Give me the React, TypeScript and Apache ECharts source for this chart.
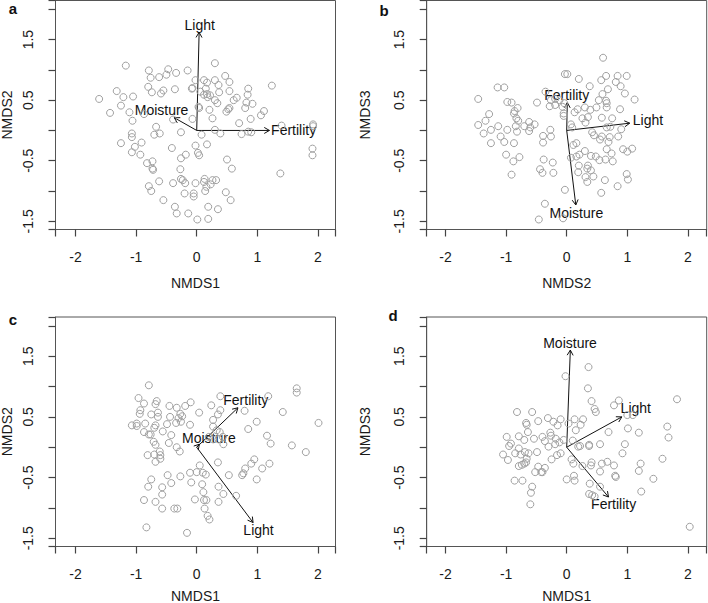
import React, { useEffect, useRef } from "react";
import * as echarts from "echarts";

const FONT = "'Liberation Sans', Arial, Helvetica, sans-serif";

const xTicks = [-2, -1, 0, 1, 2];
const yTickLabels = [-1.5, -0.5, 0.5, 1.5];

const panelLetters = ["a", "b", "c", "d"];
const xTitles = ["NMDS1", "NMDS2", "NMDS1", "NMDS1"];
const yTitles = ["NMDS2", "NMDS3", "NMDS2", "NMDS3"];

const pointsA = [
  [0.30,1.11],[-1.17,1.07],[-0.79,0.99],[-0.47,1.01],[-0.34,0.95],[-0.15,0.99],[-0.50,0.92],[-0.76,0.87],[-0.62,0.88],[-0.02,0.83],[0.12,0.83],[0.17,0.79],[0.30,0.83],[0.36,0.75],[0.47,0.90],[0.54,0.80],[1.24,0.74],[0.85,0.69],[-0.80,0.72],[-0.74,0.63],[-0.55,0.66],[-0.59,0.61],[-0.36,0.68],[-0.08,0.69],[-0.07,0.70],[0.06,0.64],[0.15,0.69],[0.17,0.60],[0.37,0.63],[0.54,0.65],[0.84,0.59],[0.66,0.54],[0.61,0.50],[-1.32,0.65],[-1.21,0.55],[-1.05,0.56],[-1.61,0.52],[-1.25,0.41],[-1.43,0.29],[-1.11,0.30],[-1.06,0.16],[-0.87,0.27],[0.12,0.59],[0.18,0.55],[0.22,0.58],[0.30,0.50],[0.34,0.45],[0.03,0.39],[0.04,0.37],[0.21,0.34],[0.49,0.31],[0.52,0.35],[0.54,0.37],[0.80,0.37],[0.82,0.46],[0.92,0.44],[1.11,0.32],[1.06,0.25],[0.89,0.19],[0.26,0.20],[-0.07,0.19],[-0.39,0.18],[0.70,0.12],[-0.67,0.06],[-0.70,-0.07],[-0.61,-0.05],[-0.26,-0.03],[0.08,-0.07],[0.30,0.01],[0.39,-0.05],[0.74,-0.06],[0.85,-0.02],[0.90,-0.03],[1.40,0.08],[1.92,0.10],[1.92,0.07],[-1.07,-0.05],[-1.07,-0.11],[-1.25,-0.21],[-1.02,-0.27],[-0.91,-0.20],[-1.07,-0.36],[-0.93,-0.40],[-0.41,-0.29],[-0.02,-0.25],[0.17,-0.23],[0.02,-0.37],[0.04,-0.41],[-0.18,-0.40],[-0.26,-0.46],[1.91,-0.30],[1.91,-0.41],[-0.82,-0.54],[-0.73,-0.51],[-0.73,-0.63],[-0.72,-0.65],[-0.27,-0.64],[0.50,-0.48],[0.58,-0.63],[1.38,-0.71],[-0.26,-0.80],[-0.62,-0.84],[-0.39,-0.87],[-0.23,-0.82],[-0.19,-0.87],[-0.02,-0.87],[0.13,-0.80],[0.12,-0.85],[0.26,-0.82],[0.32,-0.82],[0.23,-0.89],[0.16,-0.93],[-0.79,-0.92],[-0.75,-1.00],[0.14,-1.00],[-0.20,-1.04],[-0.05,-1.04],[-0.05,-1.09],[0.48,-1.02],[0.56,-1.15],[-0.55,-1.15],[-0.36,-1.26],[-0.33,-1.37],[-0.14,-1.37],[0.19,-1.26],[0.35,-1.30],[0.01,-1.47],[0.19,-1.46]
];

const pointsB = [
  [0.60,1.20],[-0.03,0.93],[0.01,0.93],[0.65,0.90],[0.99,0.90],[0.84,0.90],[0.57,0.83],[0.20,0.85],[0.81,0.80],[0.89,0.73],[0.38,0.73],[-1.14,0.71],[-1.03,0.71],[-1.46,0.52],[-0.35,0.64],[0.68,0.68],[0.59,0.60],[0.53,0.50],[0.65,0.49],[0.96,0.61],[1.12,0.51],[-0.98,0.47],[-0.91,0.46],[-0.49,0.46],[-0.26,0.50],[-0.19,0.52],[-0.12,0.50],[-0.28,0.40],[-0.19,0.42],[-0.04,0.45],[-0.07,0.39],[0.13,0.30],[0.18,0.35],[0.30,0.38],[0.39,0.34],[0.49,0.38],[0.66,0.38],[0.66,0.45],[0.88,0.35],[-0.81,0.37],[-0.86,0.32],[-0.87,0.28],[-1.28,0.27],[-0.05,0.28],[-0.05,0.24],[0.26,0.20],[0.31,0.13],[0.35,0.22],[0.58,0.21],[0.75,0.20],[-1.34,0.16],[-0.83,0.20],[-0.80,0.16],[-1.46,0.09],[-1.13,0.07],[-0.98,0.01],[-0.84,0.07],[-0.70,0.07],[-0.62,0.14],[-0.60,0.05],[-0.62,-0.01],[-0.53,0.10],[-1.25,0.01],[-1.37,-0.05],[0.07,0.10],[0.09,0.05],[0.66,0.05],[0.72,0.06],[0.90,0.02],[-0.27,0.01],[-0.82,-0.02],[-1.09,-0.10],[-1.03,-0.19],[-1.25,-0.21],[-0.87,-0.21],[-0.39,-0.09],[-0.39,-0.20],[-0.26,-0.10],[0.42,-0.03],[0.45,-0.08],[0.55,-0.15],[0.58,-0.10],[0.71,-0.11],[0.69,-0.19],[0.85,-0.10],[0.11,-0.24],[0.16,-0.21],[0.66,-0.31],[0.93,-0.31],[1.08,-0.30],[1.00,-0.35],[0.30,-0.34],[0.74,-0.38],[-1.00,-0.40],[-0.78,-0.44],[0.07,-0.45],[0.16,-0.43],[0.21,-0.40],[0.40,-0.42],[0.48,-0.43],[0.64,-0.48],[0.76,-0.51],[0.54,-0.49],[-0.38,-0.48],[-0.23,-0.53],[-0.88,-0.51],[0.20,-0.58],[0.35,-0.58],[0.34,-0.63],[0.40,-0.66],[-0.44,-0.64],[-0.40,-0.70],[-0.22,-0.70],[0.19,-0.69],[-0.91,-0.73],[0.44,-0.76],[0.31,-0.77],[0.34,-0.85],[0.99,-0.72],[0.63,-0.82],[1.01,-0.81],[0.84,-0.92],[-0.03,-0.98],[0.57,-1.03],[-0.36,-1.21],[-0.46,-1.47],[-0.06,-1.45]
];

const pointsC = [
  [-0.79,1.02],[1.65,0.97],[1.65,0.90],[-0.96,0.81],[-0.87,0.72],[-0.66,0.76],[-0.68,0.71],[-0.45,0.68],[-0.33,0.65],[-0.19,0.68],[-0.10,0.74],[0.39,0.84],[1.18,0.84],[0.24,0.69],[0.39,0.61],[0.79,0.60],[1.42,0.58],[0.04,0.57],[-0.93,0.61],[-0.94,0.55],[-0.75,0.54],[-0.64,0.57],[-0.64,0.50],[-0.44,0.50],[-0.27,0.55],[-0.24,0.51],[-0.30,0.48],[-0.26,0.42],[-0.49,0.38],[-0.34,0.40],[-0.11,0.37],[0.35,0.54],[0.99,0.42],[2.01,0.40],[0.85,0.30],[-1.07,0.36],[-0.99,0.39],[-0.99,0.35],[-0.85,0.39],[-0.70,0.32],[-0.68,0.36],[-0.56,0.26],[-0.87,0.25],[-0.79,0.21],[-0.76,0.21],[-0.42,0.20],[-0.71,0.09],[-0.68,0.04],[-0.46,0.07],[-0.33,0.00],[-0.28,-0.07],[0.27,0.45],[0.27,0.34],[0.33,0.28],[0.38,0.25],[0.43,0.17],[0.44,0.05],[0.20,0.17],[0.27,0.13],[0.36,0.13],[1.16,0.19],[1.22,0.06],[1.57,0.03],[1.80,-0.08],[-0.81,-0.13],[-0.70,-0.12],[-0.61,-0.07],[-0.60,-0.13],[-0.60,-0.19],[-0.68,-0.24],[0.35,-0.25],[0.05,-0.30],[0.95,-0.20],[0.90,-0.27],[1.20,-0.27],[0.80,-0.35],[1.08,-0.35],[0.77,-0.43],[0.75,-0.46],[0.53,-0.46],[0.99,-0.53],[-0.11,-0.42],[0.00,-0.41],[0.10,-0.42],[0.15,-0.45],[-0.48,-0.46],[-0.27,-0.48],[-0.09,-0.58],[-0.75,-0.53],[-0.42,-0.59],[0.09,-0.61],[0.11,-0.74],[-0.80,-0.65],[-0.57,-0.66],[0.36,-0.65],[0.44,-0.77],[0.65,-0.80],[-0.57,-0.78],[-0.87,-0.87],[-0.68,-0.90],[-0.03,-0.86],[0.12,-0.87],[0.16,-0.87],[0.36,-0.90],[-0.57,-1.01],[-0.37,-1.01],[-0.32,-1.01],[0.13,-1.01],[0.18,-1.13],[0.21,-1.19],[-0.83,-1.32],[-0.16,-1.41]
];

const pointsD = [
  [0.36,1.32],[-0.02,1.17],[0.35,0.97],[0.41,0.76],[0.46,0.63],[0.48,0.58],[0.86,0.77],[0.78,0.69],[1.82,0.79],[-0.82,0.58],[-0.57,0.58],[-0.47,0.43],[-0.31,0.48],[-0.22,0.42],[-0.15,0.36],[-0.10,0.46],[0.03,0.39],[0.13,0.46],[0.27,0.46],[0.23,0.37],[0.15,0.28],[-0.67,0.40],[-0.66,0.37],[1.00,0.53],[1.09,0.53],[1.01,0.31],[1.19,0.24],[0.69,0.25],[1.66,0.34],[1.68,0.16],[-0.99,0.17],[-0.79,0.18],[-0.70,0.12],[-0.64,0.25],[-0.54,0.14],[-0.40,0.17],[-0.36,0.10],[-0.27,0.24],[-0.26,0.19],[-0.18,0.14],[-0.12,0.08],[-0.19,0.05],[-0.05,0.12],[0.10,0.11],[0.37,0.04],[0.37,0.02],[0.19,0.01],[0.22,0.02],[0.55,0.05],[0.96,0.05],[0.92,-0.10],[-0.92,0.06],[-0.95,0.02],[-1.05,-0.12],[-0.97,-0.21],[-0.85,-0.10],[-0.79,-0.02],[-0.76,-0.12],[-0.69,-0.08],[-0.66,-0.19],[-0.63,-0.10],[-0.79,-0.31],[-0.74,-0.29],[-0.70,-0.27],[-0.67,-0.25],[-0.49,-0.08],[-0.30,0.01],[-0.16,-0.13],[-0.10,-0.10],[-0.25,-0.20],[-0.47,-0.32],[-0.42,-0.41],[-0.40,-0.41],[-0.36,-0.34],[-0.52,-0.41],[0.08,-0.20],[0.11,-0.27],[0.26,-0.31],[0.41,-0.25],[0.40,-0.30],[0.58,-0.27],[0.67,-0.24],[0.78,-0.30],[1.22,-0.27],[1.19,-0.39],[1.58,-0.19],[0.55,-0.40],[0.80,-0.47],[0.81,-0.49],[1.43,-0.52],[0.00,-0.53],[0.12,-0.47],[0.13,-0.55],[-0.86,-0.55],[-0.73,-0.55],[-0.57,-0.65],[-0.59,-0.75],[-0.60,-0.94],[0.38,-0.60],[0.55,-0.65],[1.23,-0.73],[0.37,-0.77],[0.42,-0.79],[0.46,-0.81],[2.03,-1.31]
];

// arrows: [name, tipX, tipY, labelX, labelY]
const arrowsA = [
  ["Light", 0.04, 1.62, 0.05, 1.74],
  ["Fertility", 1.20, 0.0, 1.60, 0.0],
  ["Moisture", -0.37, 0.21, -0.58, 0.335],
];
const arrowsB = [
  ["Fertility", 0.01, 0.46, 0.0, 0.59],
  ["Light", 1.04, 0.12, 1.34, 0.18],
  ["Moisture", 0.15, -1.23, 0.16, -1.37],
];
const arrowsC = [
  ["Fertility", 0.68, 0.65, 0.81, 0.78],
  ["Light", 0.93, -1.24, 1.02, -1.36],
  ["Moisture", 0.045, 0.05, 0.20, 0.15],
];
const arrowsD = [
  ["Moisture", 0.06, 1.60, 0.055, 1.72],
  ["Light", 0.91, 0.50, 1.14, 0.64],
  ["Fertility", 0.69, -0.82, 0.775, -0.94],
];

const allPoints = [pointsA, pointsB, pointsC, pointsD];
const allArrows = [arrowsA, arrowsB, arrowsC, arrowsD];

// layout (pixels)
const grids = [
  { left: 55.5, top: 0.5, width: 280, height: 229 },
  { left: 426.7, top: 0.5, width: 280, height: 229 },
  { left: 55.5, top: 317, width: 280, height: 229.5 },
  { left: 426.7, top: 317, width: 280, height: 229.5 },
];
const xRanges = [[-2.33, 2.29], [-2.31, 2.31], [-2.33, 2.29], [-2.31, 2.31]];
const yRange = [-1.635, 2.145];
const xNameGaps = [46, 46, 42, 42];
const yNameGaps = [41.5, 55, 41.5, 55];
const letterPos = [[13, 8], [384, 10], [13, 319], [393, 315]];

export default function App() {
  const ref = useRef<HTMLDivElement>(null);
  useEffect(() => {
    if (!ref.current) return;
    const chart = echarts.init(ref.current, null, { renderer: "svg" });
    const textColor = "#1a1a1a";
    const axisColor = "#444";

    const xAxes = grids.map((_, i) => ({
      type: "value",
      gridIndex: i,
      position: "bottom",
      min: xRanges[i][0],
      max: xRanges[i][1],
      minInterval: 1,
      maxInterval: 1,
      splitNumber: 5,
      axisLine: { show: true, onZero: false, lineStyle: { color: "#555", width: 1 } },
      splitLine: { show: false },
      axisTick: { show: true, inside: false, length: 7, lineStyle: { color: axisColor, width: 1.2 } },
      axisLabel: { show: true, customValues: xTicks, margin: 20, fontSize: 14, fontFamily: FONT, color: textColor },
      name: xTitles[i],
      nameLocation: "middle",
      nameGap: xNameGaps[i],
      nameTextStyle: { fontSize: 14, fontFamily: FONT, color: textColor },
    }));
    const yAxes = grids.map((_, i) => ({
      type: "value",
      gridIndex: i,
      position: "left",
      min: yRange[0],
      max: yRange[1],
      minInterval: 0.5,
      maxInterval: 0.5,
      splitNumber: 8,
      axisLine: { show: true, onZero: false, lineStyle: { color: "#555", width: 1 } },
      splitLine: { show: false },
      axisTick: { show: true, inside: false, length: 7, lineStyle: { color: axisColor, width: 1.2 } },
      axisLabel: { show: true, customValues: yTickLabels, rotate: 90, margin: 21, fontSize: 14, fontFamily: FONT, color: textColor },
      name: yTitles[i],
      nameLocation: "middle",
      nameGap: yNameGaps[i],
      nameRotate: 90,
      nameTextStyle: { fontSize: 14, fontFamily: FONT, color: textColor },
    }));

    const series: any[] = [];
    allPoints.forEach((pts, i) => {
      series.push({
        type: "scatter",
        xAxisIndex: i,
        yAxisIndex: i,
        data: pts,
        symbol: "circle",
        symbolSize: 7,
        itemStyle: { color: "rgba(255,255,255,0)", borderColor: "#a0a0a0", borderWidth: 1, opacity: 1 },
        emphasis: { disabled: true },
        silent: true,
      });
    });
    allArrows.forEach((arr, i) => {
      series.push({
        type: "custom",
        xAxisIndex: i,
        yAxisIndex: i,
        coordinateSystem: "cartesian2d",
        clip: false,
        silent: true,
        data: arr.map((a) => [a[1], a[2], a[3], a[4]]),
        renderItem: (params: any, api: any) => {
          const name = arr[params.dataIndex][0] as string;
          const o = api.coord([0, 0]);
          const t = api.coord([api.value(0), api.value(1)]);
          const l = api.coord([api.value(2), api.value(3)]);
          const ang = Math.atan2(t[1] - o[1], t[0] - o[0]);
          const len = 6;
          const spread = Math.PI / 6;
          const h1 = [t[0] - len * Math.cos(ang - spread), t[1] - len * Math.sin(ang - spread)];
          const h2 = [t[0] - len * Math.cos(ang + spread), t[1] - len * Math.sin(ang + spread)];
          return {
            type: "group",
            children: [
              { type: "line", shape: { x1: o[0], y1: o[1], x2: t[0], y2: t[1] }, style: { stroke: "#111", lineWidth: 1 } },
              { type: "polyline", shape: { points: [h1, t, h2] }, style: { stroke: "#111", fill: null, lineWidth: 1 } },
              {
                type: "text",
                x: l[0],
                y: l[1],
                style: { text: name, align: "center", verticalAlign: "middle", fontSize: 14, fontFamily: FONT, fill: "#111" },
              },
            ],
          };
        },
      });
    });

    chart.setOption({
      animation: false,
      backgroundColor: "#ffffff",
      grid: grids.map((g) => ({
        ...g,
        show: true,
        borderColor: "#555",
        borderWidth: 1,
        backgroundColor: "transparent",
        containLabel: false,
        outerBoundsMode: "none",
      })),
      xAxis: xAxes,
      yAxis: yAxes,
      graphic: panelLetters.map((s, i) => ({
        type: "text",
        x: letterPos[i][0],
        y: letterPos[i][1],
        style: { text: s, align: "center", verticalAlign: "middle", fontSize: 15, fontWeight: "bold", fontFamily: FONT, fill: "#111" },
      })),
      series,
    });

    return () => chart.dispose();
  }, []);
  return <div ref={ref} style={{ position: "absolute", left: 0, top: 0, width: 708, height: 603 }} />;
}
